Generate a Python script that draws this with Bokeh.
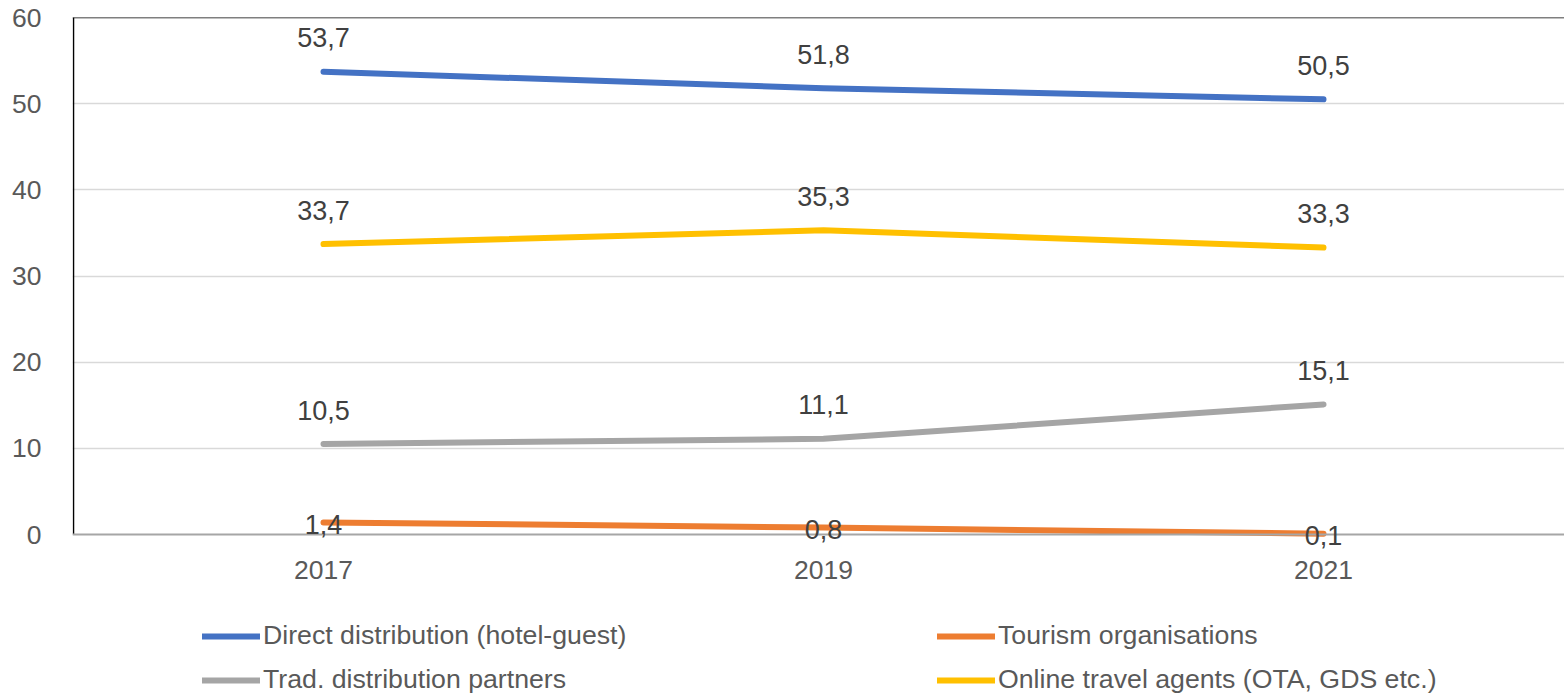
from bokeh.plotting import figure
from bokeh.models import (ColumnDataSource, LabelSet, Legend, LegendItem, FixedTicker, Span)
from bokeh.core.properties import value
from bokeh.embed import file_html
from bokeh.resources import INLINE

years = ["2017", "2019", "2021"]
direct = [53.7, 51.8, 50.5]
tourism = [1.4, 0.8, 0.1]
trad = [10.5, 11.1, 15.1]
ota = [33.7, 35.3, 33.3]

series_names = ["Direct distribution (hotel-guest)", "Tourism organisations",
                "Trad. distribution partners", "Online travel agents (OTA, GDS etc.)"]
series_values = [direct, tourism, trad, ota]
colors = ["#4472C4", "#ED7D31", "#A5A5A5", "#FFC000"]
label_offsets = [34, -2, 34, 34]

FONT = "Liberation Sans"
xs = list(range(len(years)))

PX_PER_UNIT = 517 / 60.0
y_bottom = -159 / PX_PER_UNIT

p = figure(width=1564, height=693, output_backend="svg", toolbar_location=None,
           x_range=(-0.5 - 1 / 500, -0.5 + 1491 / 500), y_range=(y_bottom, 60),
           min_border_left=72, min_border_right=0, min_border_top=17,
           min_border_bottom=0)
p.outline_line_color = None
p.background_fill_color = "white"
p.border_fill_color = "white"

# x axis drawn at y=0 inside the frame
p.xaxis.fixed_location = 0
p.xaxis.ticker = FixedTicker(ticks=xs)
p.xaxis.major_label_overrides = {i: y for i, y in enumerate(years)}
p.xaxis.axis_line_color = "#A6A6A6"
p.xaxis.axis_line_width = 2
p.xaxis.major_tick_line_color = None
p.xaxis.minor_tick_line_color = None
p.xaxis.major_label_standoff = 20
p.xaxis.major_label_text_font = FONT
p.xaxis.major_label_text_font_size = "26.5px"
p.xaxis.major_label_text_color = "#595959"

p.yaxis.ticker = FixedTicker(ticks=[0, 10, 20, 30, 40, 50, 60])
p.yaxis.axis_line_color = None
p.yaxis.major_tick_line_color = None
p.yaxis.minor_tick_line_color = None
p.yaxis.major_label_standoff = 25
p.yaxis.major_label_text_font = FONT
p.yaxis.major_label_text_font_size = "26.5px"
p.yaxis.major_label_text_color = "#595959"

p.xgrid.grid_line_color = None
p.ygrid.ticker = FixedTicker(ticks=[10, 20, 30, 40, 50])
p.ygrid.grid_line_color = "#D9D9D9"
p.ygrid.grid_line_width = 1.5

# chart frame: top border and left axis line (0..60)
p.add_layout(Span(location=60, dimension="width", line_color="black", line_width=1.5))
p.segment(x0=[-0.5], y0=[0], x1=[-0.5], y1=[60], line_color="black", line_width=1.5)

renderers = []
for name, vals, col, off in zip(series_names, series_values, colors, label_offsets):
    src = ColumnDataSource(dict(x=xs, y=vals, t=[f"{v:.1f}".replace(".", ",") for v in vals]))
    r = p.line("x", "y", source=src, line_color=col, line_width=6, line_cap="round",
               line_join="round")
    renderers.append(r)
    p.add_layout(LabelSet(x="x", y="y", text="t", source=src, y_offset=off,
                          text_align="center", text_baseline="middle",
                          text_font=value(FONT), text_font_size=value("27px"),
                          text_color="#404040"))

def make_legend(items, loc):
    return Legend(items=items, location=loc, orientation="horizontal",
                  glyph_width=58, glyph_height=26, label_height=26, label_width=674,
                  label_standoff=3, spacing=0, padding=0, margin=0,
                  border_line_color=None, background_fill_alpha=0,
                  label_text_font=FONT, label_text_font_size="26.7px",
                  label_text_color="#595959")

leg1 = make_legend([LegendItem(label=series_names[0], renderers=[renderers[0]]),
                    LegendItem(label=series_names[1], renderers=[renderers[1]])], (130, 42))
leg2 = make_legend([LegendItem(label=series_names[2], renderers=[renderers[2]]),
                    LegendItem(label=series_names[3], renderers=[renderers[3]])], (130, -2))
p.add_layout(leg1)
p.add_layout(leg2)

open("out.html", "w").write(file_html(p, INLINE))
